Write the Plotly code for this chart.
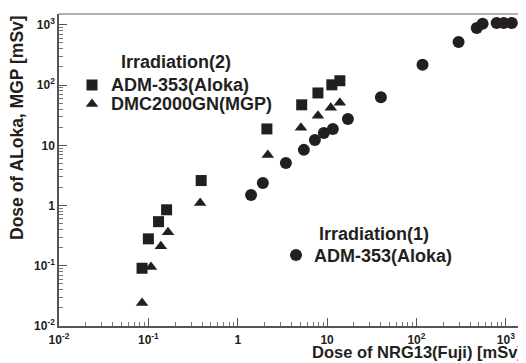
import plotly.graph_objects as go

# Irradiation(2) ADM-353(Aloka) - squares
sq_x = [0.085, 0.10, 0.13, 0.16, 0.39, 2.12, 5.2, 7.9, 11.3, 13.9]
sq_y = [0.091, 0.28, 0.54, 0.85, 2.6, 18.7, 47, 74, 101, 118]

# Irradiation(2) DMC2000GN(MGP) - triangles
tri_x = [0.085, 0.107, 0.138, 0.166, 0.38, 2.17, 5.1, 7.9, 11.0, 13.9]
tri_y = [0.024, 0.095, 0.21, 0.36, 1.1, 6.9, 19.5, 31, 42, 51]

# Irradiation(1) ADM-353(Aloka) - circles
circ_x = [1.41, 1.91, 3.46, 5.5, 7.3, 9.2, 11.6, 17.1, 40, 117, 296, 473, 550, 790, 950, 1170]
circ_y = [1.5, 2.37, 5.1, 8.4, 12.3, 16, 18.7, 27.4, 63, 217, 520, 890, 1040, 1070, 1070, 1070]

tick_vals = [0.01, 0.1, 1, 10, 100, 1000]
tick_text = ["10<sup>-2</sup>", "10<sup>-1</sup>", "1", "10", "10<sup>2</sup>", "10<sup>3</sup>"]

ink = "#231f20"
fnt = "Liberation Sans, Arial, sans-serif"

fig = go.Figure()
fig.add_trace(go.Scatter(x=sq_x, y=sq_y, mode="markers", name="ADM-353(Aloka)",
                         marker=dict(symbol="square", size=11, color=ink)))
fig.add_trace(go.Scatter(x=tri_x, y=tri_y, mode="markers", name="DMC2000GN(MGP)",
                         marker=dict(symbol="triangle-up", size=11, color=ink)))
fig.add_trace(go.Scatter(x=circ_x, y=circ_y, mode="markers", name="ADM-353(Aloka)",
                         marker=dict(symbol="circle", size=12, color=ink)))

axis_common = dict(
    type="log", showgrid=False, zeroline=False, showline=True, linecolor="#555",
    linewidth=1.5, ticks="inside", ticklen=8, tickcolor="#555", tickwidth=1,
    tickvals=tick_vals, ticktext=tick_text, automargin=False,
    tickfont=dict(family=fnt, size=12, color=ink, weight="bold"),
    minor=dict(ticks="inside", ticklen=4, tickcolor="#777", dtick="D1"),
)
fig.update_xaxes(range=[-2, 3.17], ticklabelstandoff=2, **axis_common)
fig.update_yaxes(range=[-2, 3.18], **axis_common)

# gray top/right frame
fig.add_shape(type="line", xref="paper", yref="paper", x0=0, x1=1, y0=1, y1=1,
              line=dict(color="#999", width=1.5))
fig.add_shape(type="line", xref="paper", yref="paper", x0=1, x1=1, y0=0, y1=1,
              line=dict(color="#999", width=1.5))

# page body has an 8px default margin; figure sized to fit the window
OFF = 8
W, H = 526 - OFF, 363 - OFF
L, T = 59 - OFF, 14 - OFF
R = W - (521 - OFF)
B = H - (326 - OFF)
pw, ph = W - L - R, H - T - B

def px(xp):
    return (xp - OFF - L) / pw

def py(yp):
    return 1 - (yp - OFF - T) / ph

def txt(x, y, s, size=18, xanchor="left", **kw):
    fig.add_annotation(xref="paper", yref="paper", x=x, y=y, text=s, showarrow=False,
                       xanchor=xanchor, yanchor="middle",
                       font=dict(family=fnt, size=size, color=ink, weight="bold"), **kw)

# legend group 2
txt(px(119), py(62), "Irradiation(2)")
txt(px(109), py(85), "ADM-353(Aloka)")
txt(px(109), py(104), "DMC2000GN(MGP)")
fig.add_trace(go.Scatter(x=[px(92)], y=[py(85)], xaxis="x2", yaxis="y2", mode="markers",
                         marker=dict(symbol="square", size=11, color=ink), showlegend=False))
fig.add_trace(go.Scatter(x=[px(92)], y=[py(104)], xaxis="x2", yaxis="y2", mode="markers",
                         marker=dict(symbol="triangle-up", size=11, color=ink), showlegend=False))
# legend group 1
txt(px(317), py(234), "Irradiation(1)")
txt(px(312), py(256), "ADM-353(Aloka)")
fig.add_trace(go.Scatter(x=[px(296)], y=[py(255)], xaxis="x2", yaxis="y2", mode="markers",
                         marker=dict(symbol="circle", size=12, color=ink), showlegend=False))

fig.update_layout(
    xaxis2=dict(overlaying="x", range=[0, 1], visible=False, automargin=False),
    yaxis2=dict(overlaying="y", range=[0, 1], visible=False, automargin=False),
)

# axis titles
fig.add_annotation(xref="paper", yref="paper", x=px(525), y=py(352), text="Dose of NRG13(Fuji) [mSv]",
                   showarrow=False, xanchor="right", yanchor="middle",
                   font=dict(family=fnt, size=16.5, color=ink, weight="bold"))
fig.add_annotation(xref="paper", yref="paper", x=px(17), y=py(128), text="Dose of ALoka, MGP [mSv]",
                   showarrow=False, textangle=-90, xanchor="center", yanchor="middle",
                   font=dict(family=fnt, size=17.5, color=ink, weight="bold"))

fig.update_layout(
    width=W, height=H, margin=dict(l=L, r=R, t=T, b=B, autoexpand=False),
    paper_bgcolor="white", plot_bgcolor="white", showlegend=False,
)
fig.write_html("out.html")
